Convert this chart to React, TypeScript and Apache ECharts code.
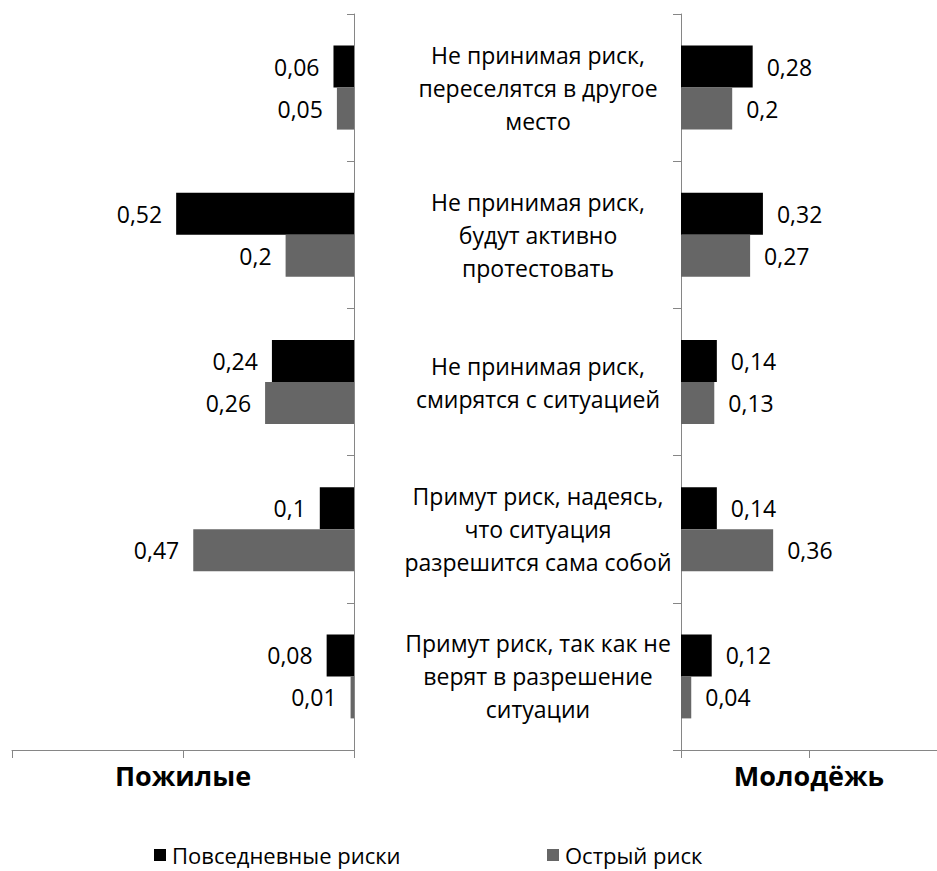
import React, { useEffect, useRef } from "react";
import * as echarts from "echarts";

const categories = [
  "Не принимая риск,\nпереселятся в другое\nместо",
  "Не принимая риск,\nбудут активно\nпротестовать",
  "Не принимая риск,\nсмирятся с ситуацией",
  "Примут риск, надеясь,\nчто ситуация\nразрешится сама собой",
  "Примут риск, так как не\nверят в разрешение\nситуации",
];
const seriesNames = ["Повседневные риски", "Острый риск"];
const elderlyDaily = [0.06, 0.52, 0.24, 0.1, 0.08];
const elderlyAcute = [0.05, 0.2, 0.26, 0.47, 0.01];
const youthDaily = [0.28, 0.32, 0.14, 0.14, 0.12];
const youthAcute = [0.2, 0.27, 0.13, 0.36, 0.04];
const groupNames = ["Пожилые", "Молодёжь"];

const FONT = "'Open Sans', 'Noto Sans', sans-serif";
const AXIS_COLOR = "#868686";
const COLORS = ["#000000", "#666666"];

const fmt = (p: any) => String(p.value).replace(".", ",");

export default function App() {
  const ref = useRef<HTMLDivElement>(null);
  useEffect(() => {
    if (!ref.current) return;
    const chart = echarts.init(ref.current, undefined, { renderer: "svg" });
    const labelStyle = { color: "#000", fontSize: 23, fontFamily: FONT, distance: 14 };
    const bar = (name: string, data: number[], idx: number, color: string, pos: string) => ({
      name,
      type: "bar",
      xAxisIndex: idx,
      yAxisIndex: idx,
      data,
      barWidth: 42,
      barGap: "0%",
      itemStyle: { color },
      label: { show: true, position: pos, formatter: fmt, ...labelStyle },
    });
    const xAxisBase = (idx: number) => ({
      gridIndex: idx,
      type: "value",
      min: 0,
      max: 1,
      interval: 0.5,
      inverse: idx === 0,
      axisLine: { show: true, lineStyle: { color: AXIS_COLOR, width: 1 } },
      axisTick: { show: true, length: 8, lineStyle: { color: AXIS_COLOR } },
      axisLabel: { show: false },
      splitLine: { show: false },
      name: groupNames[idx],
      nameLocation: "middle",
      nameGap: 12,
      nameTextStyle: {
        fontSize: 27,
        fontWeight: "bold",
        color: "#000",
        fontFamily: FONT,
        verticalAlign: "top",
      },
    });
    const legendBase = {
      top: 839,
      itemWidth: 12,
      itemHeight: 12,
      itemGap: 0,
      icon: "rect",
      textStyle: { fontSize: 22, color: "#000", fontFamily: FONT, padding: [0, 0, 0, 1] },
    };
    chart.setOption({
      animation: false,
      backgroundColor: "#ffffff",
      textStyle: { fontFamily: FONT },
      grid: [
        { left: 12, right: 583, top: 14, bottom: 121 },
        { left: 681, right: -8, top: 14, bottom: 121 },
      ],
      xAxis: [xAxisBase(0), xAxisBase(1)],
      yAxis: [
        {
          gridIndex: 0,
          type: "category",
          data: categories,
          inverse: true,
          position: "right",
          axisLine: { show: true, lineStyle: { color: AXIS_COLOR } },
          axisTick: { show: true, inside: true, length: 7, lineStyle: { color: AXIS_COLOR } },
          axisLabel: { show: false },
        },
        {
          gridIndex: 1,
          type: "category",
          data: categories,
          inverse: true,
          position: "left",
          axisLine: { show: true, lineStyle: { color: AXIS_COLOR } },
          axisTick: { show: true, length: 8, lineStyle: { color: AXIS_COLOR } },
          axisLabel: {
            show: true,
            align: "center",
            margin: 143,
            fontSize: 23,
            lineHeight: 33,
            color: "#000",
            fontFamily: FONT,
          },
        },
      ],
      legend: [
        { ...legendBase, data: [seriesNames[0]], left: 149 },
        { ...legendBase, data: [seriesNames[1]], left: 542 },
      ],
      series: [
        bar(seriesNames[0], elderlyDaily, 0, COLORS[0], "left"),
        bar(seriesNames[1], elderlyAcute, 0, COLORS[1], "left"),
        bar(seriesNames[0], youthDaily, 1, COLORS[0], "right"),
        bar(seriesNames[1], youthAcute, 1, COLORS[1], "right"),
      ],
    });
    return () => chart.dispose();
  }, []);
  return (
    <div
      ref={ref}
      style={{ position: "absolute", left: 0, top: 0, width: 937, height: 871, background: "#fff" }}
    />
  );
}
